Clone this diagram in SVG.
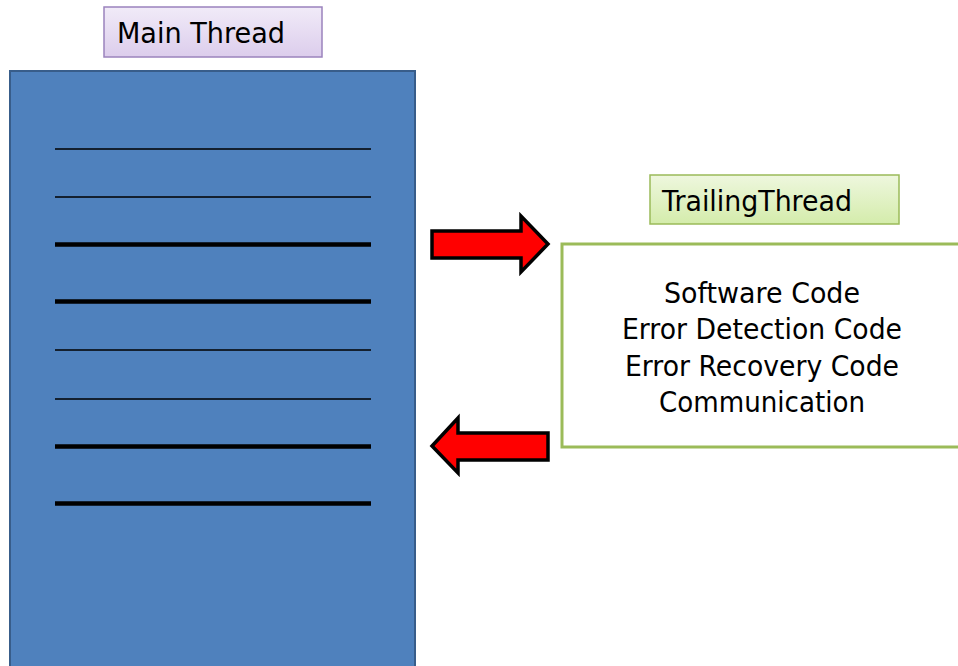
<svg xmlns="http://www.w3.org/2000/svg" width="958" height="666" viewBox="0 0 958 666">
<defs>
<linearGradient id="gPurple" x1="0" y1="0" x2="0" y2="1"><stop offset="0" stop-color="#f1ebf8"/><stop offset="1" stop-color="#dccdec"/></linearGradient>
<linearGradient id="gGreen" x1="0" y1="0" x2="0" y2="1"><stop offset="0" stop-color="#eef7de"/><stop offset="1" stop-color="#d4ecab"/></linearGradient>
<style>
.lbl{font-family:"DejaVu Sans","Liberation Sans",sans-serif;font-size:28px;fill:#000}
.thin{stroke:#000;stroke-width:1.7}
.thick{stroke:#000;stroke-width:4.5}
.arrow{fill:#ff0000;stroke:#000;stroke-width:3.5;stroke-linejoin:miter}
</style>
</defs>
<rect width="958" height="666" fill="#fff"/>
<g id="main-thread-label">
<rect x="104" y="7" width="218" height="50" fill="url(#gPurple)" stroke="#9b83bd" stroke-width="1.5"/>
<text class="lbl" x="117" y="43" textLength="168" lengthAdjust="spacingAndGlyphs">Main Thread</text>
</g>
<g id="main-thread">
<rect x="10" y="71" width="405" height="610" fill="#4f81bd" stroke="#385d8a" stroke-width="2"/>
<line class="thin" x1="55" y1="149" x2="371" y2="149"/>
<line class="thin" x1="55" y1="197" x2="371" y2="197"/>
<line class="thick" x1="55" y1="244.5" x2="371" y2="244.5"/>
<line class="thick" x1="55" y1="301.5" x2="371" y2="301.5"/>
<line class="thin" x1="55" y1="350" x2="371" y2="350"/>
<line class="thin" x1="55" y1="399" x2="371" y2="399"/>
<line class="thick" x1="55" y1="446.5" x2="371" y2="446.5"/>
<line class="thick" x1="55" y1="503.5" x2="371" y2="503.5"/>
</g>
<g id="trailing-thread-label">
<rect x="650" y="175" width="249" height="49" fill="url(#gGreen)" stroke="#9bbb59" stroke-width="1.5"/>
<text class="lbl" x="662" y="211" textLength="190" lengthAdjust="spacingAndGlyphs">TrailingThread</text>
</g>
<g id="trailing-thread">
<rect x="562" y="244" width="420" height="203" fill="#fff" stroke="#9bbb59" stroke-width="3"/>
<text class="lbl" text-anchor="middle" x="762" y="303" textLength="196" lengthAdjust="spacingAndGlyphs">Software Code</text>
<text class="lbl" text-anchor="middle" x="762" y="339" textLength="280" lengthAdjust="spacingAndGlyphs">Error Detection Code</text>
<text class="lbl" text-anchor="middle" x="762" y="376" textLength="274" lengthAdjust="spacingAndGlyphs">Error Recovery Code</text>
<text class="lbl" text-anchor="middle" x="762" y="412" textLength="206" lengthAdjust="spacingAndGlyphs">Communication</text>
</g>
<g id="connectors">
<path class="arrow" d="M432,231 L521,231 L521,216 L548,244 L521,272 L521,258 L432,258 Z"/>
<path class="arrow" d="M548,433 L458,433 L458,418 L432,446 L458,473 L458,460 L548,460 Z"/>
</g>
</svg>
